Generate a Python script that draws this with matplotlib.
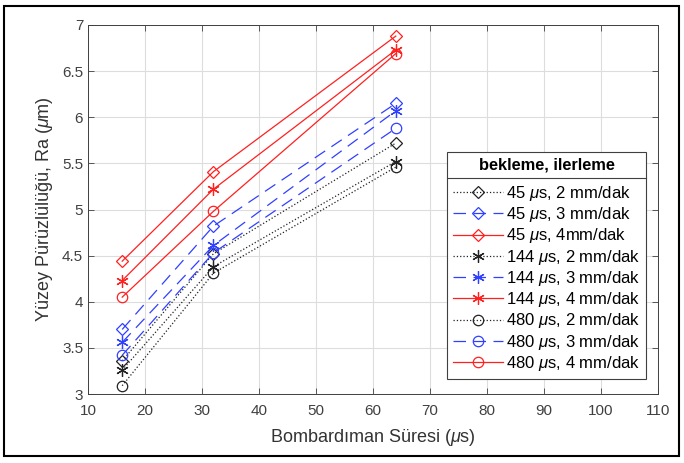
import matplotlib
matplotlib.use('Agg')
import matplotlib.pyplot as plt
from matplotlib.patches import Rectangle
from matplotlib.lines import Line2D

plt.rcParams['font.family'] = ['Liberation Sans', 'DejaVu Sans']
plt.rcParams['mathtext.fontset'] = 'custom'
plt.rcParams['mathtext.it'] = 'Liberation Sans:italic'

# Veriler
sure = [16, 32, 64]
ra_45_2 = [3.36, 4.52, 5.72]
ra_45_3 = [3.70, 4.82, 6.15]
ra_45_4 = [4.44, 5.41, 6.88]
ra_144_2 = [3.26, 4.38, 5.52]
ra_144_3 = [3.56, 4.61, 6.07]
ra_144_4 = [4.23, 5.22, 6.73]
ra_480_2 = [3.09, 4.31, 5.46]
ra_480_3 = [3.42, 4.53, 5.88]
ra_480_4 = [4.05, 4.98, 6.69]

etiketler = [r'45 $\mu$s, 2 mm/dak', r'45 $\mu$s, 3 mm/dak', r'45 $\mu$s, 4mm/dak',
             r'144 $\mu$s, 2 mm/dak', r'144 $\mu$s, 3 mm/dak', r'144 $\mu$s, 4 mm/dak',
             r'480 $\mu$s, 2 mm/dak', r'480 $\mu$s, 3 mm/dak', r'480 $\mu$s, 4 mm/dak']
seriler = [ra_45_2, ra_45_3, ra_45_4, ra_144_2, ra_144_3, ra_144_4, ra_480_2, ra_480_3, ra_480_4]

siyah = '#222222'
mavi = '#3040ff'
kirmizi = '#ff2020'
stiller = [(siyah, ':'), (mavi, (0, (10, 6))), (kirmizi, '-')]
markerlar = ['D', (6, 2, 0), 'o']
msize = [6.5, 9, 7.5]

fig = plt.figure(figsize=(6.84, 4.63), dpi=100)
ax = fig.add_axes([88/684, 1 - 394/463, (658-88)/684, (394-25)/463])

for i, (y, lab) in enumerate(zip(seriler, etiketler)):
    renk, ls = stiller[i % 3]
    m = markerlar[i // 3]
    ax.plot(sure, y, color=renk, linestyle=ls, linewidth=0.9, marker=m,
            markersize=msize[i // 3], markerfacecolor='none', markeredgewidth=0.9, label=lab)

ax.set_xlim(10, 110)
ax.set_ylim(3, 7)
ax.set_xticks(range(10, 111, 10))
ax.set_yticks([3, 3.5, 4, 4.5, 5, 5.5, 6, 6.5, 7])
ax.set_yticklabels(['3', '3.5', '4', '4.5', '5', '5.5', '6', '6.5', '7'])
ax.grid(True, color='#dddddd', linewidth=0.8)
ax.set_axisbelow(True)
ax.tick_params(direction='in', top=True, right=True, labelsize=11, colors='#404040',
               length=4, width=0.6)
ax.tick_params(axis='x', pad=7)
for s in ax.spines.values():
    s.set_color('#404040')
    s.set_linewidth(0.7)

ax.set_xlabel(r'Bombardıman Süresi ($\mu$s)', fontsize=13, color='#333333', labelpad=7)
ax.set_ylabel(r'Yüzey Pürüzlülüğü, Ra ($\mu$m)', fontsize=13, color='#333333', labelpad=5)

leg = ax.legend(loc='upper left', bbox_to_anchor=(0.63, 0.656), fontsize=12,
                title='bekleme, ilerleme', title_fontproperties={'weight': 'bold', 'size': 11.8},
                frameon=True, fancybox=False, edgecolor='#404040', framealpha=1,
                handlelength=3.0, handletextpad=0.2, labelspacing=0.135, borderpad=0.35,
                borderaxespad=0)
leg.get_frame().set_linewidth(0.8)
leg._legend_box.sep = 8  # başlık ile girdiler arası boşluk

# Başlık altı çizgisi
fig.canvas.draw()
lb = leg.get_window_extent()
tb = leg.get_title().get_window_extent()
ysep = (tb.y0 - 5) / fig.bbox.height
fig.add_artist(Line2D([lb.x0 / fig.bbox.width, lb.x1 / fig.bbox.width], [ysep, ysep],
                      color='#404040', linewidth=0.8, transform=fig.transFigure))

# Dış çerçeve
fig.add_artist(Rectangle((4/684, 1 - 456/463), 675/684, 450/463, transform=fig.transFigure,
                         fill=False, edgecolor='black', linewidth=1.5))

fig.savefig('out.png', dpi=100)
